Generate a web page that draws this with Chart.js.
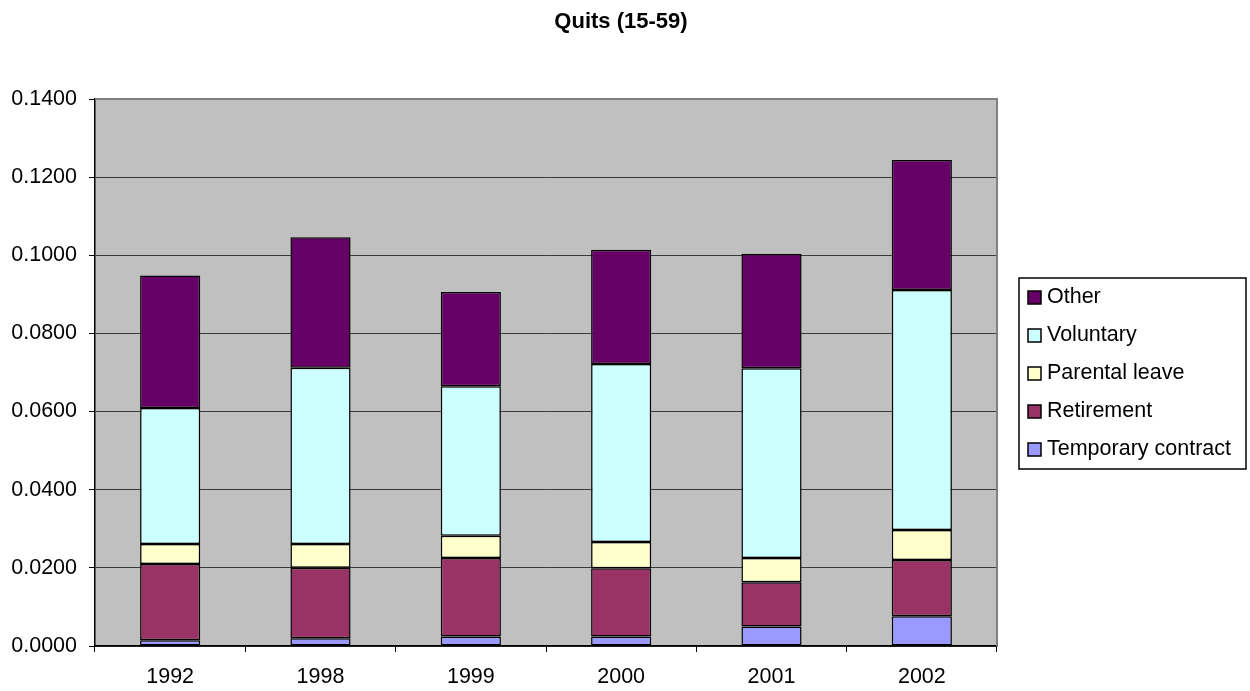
<!DOCTYPE html>
<html>
<head>
<meta charset="utf-8">
<title>Quits (15-59)</title>
<script src="https://cdn.jsdelivr.net/npm/chart.js@4.4.0/dist/chart.umd.min.js"></script>
<style>
  html, body { margin: 0; padding: 0; background: #fff; }
  #chart { display: block; }
</style>
</head>
<body>
<canvas id="chart" width="1250" height="691"></canvas>
<script>
// share of employees quitting, by reason
const years = ['1992', '1998', '1999', '2000', '2001', '2002'];
const temporary = [0.0015, 0.0020, 0.0024, 0.0024, 0.0050, 0.0076];
const retirement = [0.0195, 0.0180, 0.0201, 0.0175, 0.0113, 0.0144];
const parental = [0.0051, 0.0061, 0.0057, 0.0067, 0.0062, 0.0077];
const voluntary = [0.0348, 0.0451, 0.0383, 0.0456, 0.0486, 0.0614];
const other = [0.0339, 0.0334, 0.0241, 0.0292, 0.0293, 0.0333];

const yMax = 0.14;
const yStep = 0.02;
const FONT = 'Liberation Sans, Arial, sans-serif';

function series(label, data, color) {
    return {
        label: label,
        data: data,
        backgroundColor: color,
        borderColor: '#000',
        borderWidth: 1.5,
        borderSkipped: false,
        barPercentage: 0.4,
        categoryPercentage: 1.0
    };
}

// plot background, grey frame, title and the boxed legend
const excelLook = {
    id: 'excelLook',
    beforeDraw(chart) {
        const a = chart.chartArea;
        const ctx = chart.ctx;
        ctx.save();
        ctx.fillStyle = '#fff';
        ctx.fillRect(0, 0, chart.width, chart.height);
        ctx.fillStyle = '#c0c0c0';
        ctx.fillRect(a.left, a.top, a.right - a.left, a.bottom - a.top);
        ctx.restore();
    },
    afterDatasetsDraw(chart) {
        const a = chart.chartArea;
        const ctx = chart.ctx;
        ctx.save();
        ctx.strokeStyle = '#808080';
        ctx.lineWidth = 2;
        ctx.beginPath();
        ctx.moveTo(a.left, a.top);
        ctx.lineTo(a.right, a.top);
        ctx.lineTo(a.right, a.bottom);
        ctx.stroke();
        ctx.restore();
    },
    afterDraw(chart) {
        const ctx = chart.ctx;
        ctx.save();
        ctx.fillStyle = '#000';
        ctx.font = 'bold 22px ' + FONT;
        ctx.textAlign = 'center';
        ctx.textBaseline = 'middle';
        ctx.fillText('Quits (15-59)', 621, 22);

        // legend box
        const bx = 1019, by = 278, bw = 227, bh = 191;
        ctx.fillStyle = '#fff';
        ctx.fillRect(bx, by, bw, bh);
        ctx.strokeStyle = '#000';
        ctx.lineWidth = 1.5;
        ctx.strokeRect(bx, by, bw, bh);

        ctx.font = '21.5px ' + FONT;
        ctx.textAlign = 'left';
        const items = chart.data.datasets.slice().reverse();
        items.forEach((ds, i) => {
            const cy = 297 + i * 38;
            ctx.fillStyle = ds.backgroundColor;
            ctx.fillRect(1028, cy - 6, 13, 13);
            ctx.strokeStyle = '#000';
            ctx.lineWidth = 1.5;
            ctx.strokeRect(1028, cy - 6, 13, 13);
            ctx.fillStyle = '#000';
            ctx.fillText(ds.label, 1047, cy);
        });
        ctx.restore();
    }
};

new Chart(document.getElementById('chart'), {
    type: 'bar',
    data: {
        labels: years,
        datasets: [
            series('Temporary contract', temporary, '#9999ff'),
            series('Retirement', retirement, '#993366'),
            series('Parental leave', parental, '#ffffcc'),
            series('Voluntary', voluntary, '#ccffff'),
            series('Other', other, '#660066')
        ]
    },
    options: {
        responsive: false,
        animation: false,
        devicePixelRatio: 1,
        layout: { padding: { left: 0, right: 253, top: 99, bottom: 0 } },
        plugins: {
            legend: { display: false },
            title: { display: false },
            tooltip: { enabled: false }
        },
        scales: {
            x: {
                stacked: true,
                offset: true,
                grid: {
                    display: true,
                    drawOnChartArea: false,
                    drawTicks: true,
                    tickLength: 6,
                    color: '#000',
                    lineWidth: 1
                },
                border: { display: true, color: '#000', width: 1.5 },
                ticks: {
                    color: '#000',
                    font: { family: FONT, size: 21.5 },
                    padding: 12,
                    maxRotation: 0
                },
                afterFit(scale) { scale.height = 45; }
            },
            y: {
                stacked: true,
                min: 0,
                max: yMax,
                grid: {
                    color: ctx => (ctx.tick && ctx.tick.value >= yMax - 1e-9) ? 'rgba(0,0,0,0)' : '#3a3a3a',
                    tickColor: '#000',
                    lineWidth: 1,
                    tickLength: 6
                },
                border: { display: true, color: '#000', width: 1.5 },
                ticks: {
                    stepSize: yStep,
                    color: '#000',
                    font: { family: FONT, size: 21.5 },
                    padding: 12,
                    callback: v => Number(v).toFixed(4)
                },
                afterFit(scale) { scale.width = 95; }
            }
        }
    },
    plugins: [excelLook]
});
</script>
</body>
</html>
